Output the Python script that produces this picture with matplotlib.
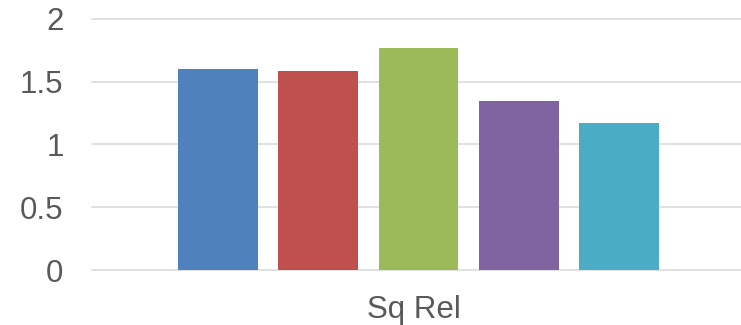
import matplotlib
matplotlib.use("Agg")
import matplotlib.pyplot as plt
import numpy as np

category = "Sq Rel"
series_names = ["S1", "S2", "S3", "S4", "S5"]
values = [1.60, 1.585, 1.77, 1.345, 1.17]
colors = ["#4F81BD", "#C0504D", "#9BBB59", "#8064A2", "#4BACC6"]
yticks = [0, 0.5, 1, 1.5, 2]
ytick_labels = ["0", "0.5", "1", "1.5", "2"]

plt.rcParams["font.family"] = ["Liberation Sans", "DejaVu Sans"]

W, H = 741, 325
fig = plt.figure(figsize=(W / 100, H / 100), dpi=100)
left, right = 92, 745
y0, y2 = 270, 19
ax = fig.add_axes([left / W, (H - y0) / H, (right - left) / W, (y0 - y2) / H])

pitch = 0.1536
width = 0.1225
n = len(values)
for i, (v, c) in enumerate(zip(values, colors)):
    ax.bar((i - (n - 1) / 2) * pitch, v, width=width, color=c, zorder=3, label=series_names[i])

ax.set_xlim(-0.5, 0.5)
ax.set_ylim(0, 2)
ax.set_yticks(yticks)
ax.set_yticklabels(ytick_labels)
ax.set_xticks([-0.007])
ax.set_xticklabels([category])
ax.tick_params(axis="both", length=0, labelsize=22.5, labelcolor="#595959")
ax.tick_params(axis="y", pad=20.5)
ax.tick_params(axis="x", pad=18)
for s in ax.spines.values():
    s.set_visible(False)
ax.grid(axis="y", color="#D9D9D9", linewidth=1.1, zorder=0)
ax.set_axisbelow(True)
for gl in ax.get_ygridlines():
    gl.set_clip_on(False)

fig.savefig("out.png", dpi=100)
